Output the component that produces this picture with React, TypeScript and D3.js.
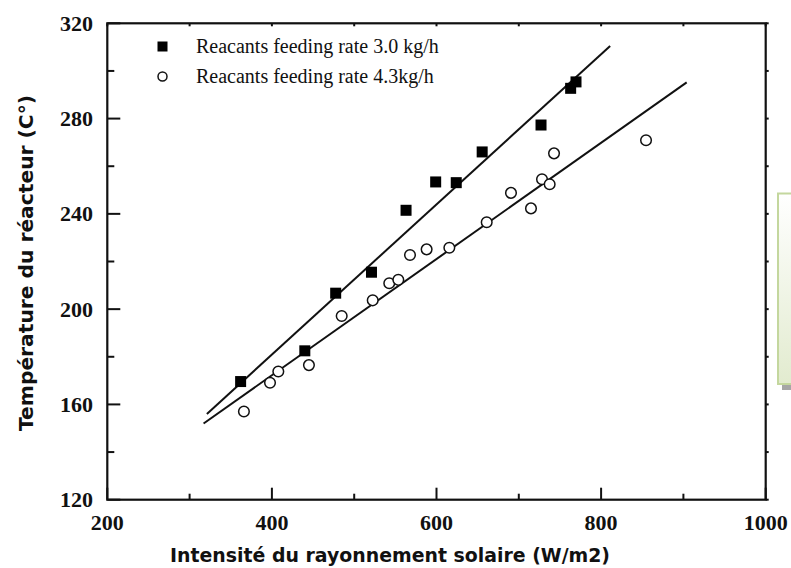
import React from "react";
import * as d3 from "d3";

// Series: reactor temperature vs solar irradiance
const feed30X = [362, 440, 477.5, 521, 563, 599, 624, 655.5, 727, 763, 769.5];
const feed30Y = [169.6, 182.5, 206.7, 215.5, 241.5, 253.4, 253.1, 266, 277.3, 292.7, 295.4];

const feed43X = [366, 397.7, 407.8, 445, 484.8, 522.5, 542.6, 553.6, 567.8, 588, 615.6, 661, 690.5, 714.8, 728.2, 737.5, 742.8, 854.6];
const feed43Y = [157, 169.1, 173.8, 176.5, 197.1, 203.7, 210.9, 212.3, 222.7, 225.1, 225.8, 236.5, 248.8, 242.3, 254.5, 252.4, 265.4, 270.9];

// Linear fit endpoints
const fit30X = [321, 811];
const fit30Y = [156, 310.5];
const fit43X = [317, 904];
const fit43Y = [152, 295.2];

const xTicks = [200, 400, 600, 800, 1000];
const xMinor = [300, 500, 700, 900];
const yTicks = [120, 160, 200, 240, 280, 320];
const yMinor = [140, 180, 220, 260, 300];

const legendLabels = ["Reacants feeding rate 3.0 kg/h", "Reacants feeding rate 4.3kg/h"];
const xTitle = "Intensité du rayonnement solaire (W/m2)";
const yTitle = "Température du réacteur (C°)";

const W = 791;
const H = 568;
const plot = { left: 107.3, right: 765.7, top: 23.3, bottom: 499.7 };

export default function App() {
  const x = d3.scaleLinear().domain([200, 1000]).range([plot.left, plot.right]);
  const y = d3.scaleLinear().domain([120, 320]).range([plot.bottom, plot.top]);
  const line = d3
    .line<[number, number]>()
    .x((d) => x(d[0]))
    .y((d) => y(d[1]));

  const serif = "'Liberation Serif', 'Times New Roman', serif";
  const sans = "'DejaVu Sans', Verdana, sans-serif";
  const sq = 11;

  return (
    <svg
      width={W}
      height={H}
      viewBox={`0 0 ${W} ${H}`}
      style={{ position: "absolute", left: 0, top: 0, background: "#fff" }}
    >
      <defs>
        <linearGradient id="noteFill" x1="0" y1="0" x2="0" y2="1">
          <stop offset="0" stopColor="#ffffff" />
          <stop offset="1" stopColor="#e2ebcf" />
        </linearGradient>
      </defs>
      <rect x={0} y={0} width={W} height={H} fill="#fff" />

      {/* side note box */}
      <rect x={782} y={198} width={20} height={192} fill="#a6a6a6" />
      <rect x={778} y={193.5} width={20} height={190.5} fill="url(#noteFill)" stroke="#c4d79e" strokeWidth={2} />

      {/* fit lines */}
      <path d={line(fit30X.map((v, i) => [v, fit30Y[i]]) as [number, number][]) || ""} fill="none" stroke="#111" strokeWidth={2} />
      <path d={line(fit43X.map((v, i) => [v, fit43Y[i]]) as [number, number][]) || ""} fill="none" stroke="#111" strokeWidth={2} />

      {/* data markers */}
      {feed43X.map((v, i) => (
        <circle key={"c" + i} cx={x(v)} cy={y(feed43Y[i])} r={5.3} fill="#fff" stroke="#111" strokeWidth={1.5} />
      ))}
      {feed30X.map((v, i) => (
        <rect key={"s" + i} x={x(v) - sq / 2} y={y(feed30Y[i]) - sq / 2} width={sq} height={sq} fill="#000" />
      ))}

      {/* frame */}
      <rect
        x={plot.left}
        y={plot.top}
        width={plot.right - plot.left}
        height={plot.bottom - plot.top}
        fill="none"
        stroke="#111"
        strokeWidth={2.2}
      />

      {/* bottom ticks */}
      {xTicks.map((t) => (
        <line key={"xb" + t} x1={x(t)} x2={x(t)} y1={plot.bottom} y2={plot.bottom - 12} stroke="#111" strokeWidth={2} />
      ))}
      {xMinor.map((t) => (
        <line key={"xbm" + t} x1={x(t)} x2={x(t)} y1={plot.bottom} y2={plot.bottom - 6} stroke="#111" strokeWidth={2} />
      ))}
      {/* top ticks */}
      {[...xTicks, ...xMinor].map((t) => (
        <line key={"xt" + t} x1={x(t)} x2={x(t)} y1={plot.top} y2={plot.top + 3} stroke="#111" strokeWidth={2} />
      ))}
      {/* left ticks */}
      {yTicks.map((t) => (
        <line key={"yl" + t} x1={plot.left} x2={plot.left + 13} y1={y(t)} y2={y(t)} stroke="#111" strokeWidth={2} />
      ))}
      {yMinor.map((t) => (
        <line key={"ylm" + t} x1={plot.left} x2={plot.left + 7} y1={y(t)} y2={y(t)} stroke="#111" strokeWidth={2} />
      ))}
      {/* right ticks */}
      {[...yTicks, ...yMinor].map((t) => (
        <line key={"yr" + t} x1={plot.right} x2={plot.right + 3} y1={y(t)} y2={y(t)} stroke="#111" strokeWidth={2} />
      ))}

      {/* tick labels */}
      {xTicks.map((t) => (
        <text
          key={"xl" + t}
          x={x(t)}
          y={530}
          textAnchor="middle"
          fontFamily={serif}
          fontWeight="bold"
          fontSize={22}
          fill="#111"
        >
          {t}
        </text>
      ))}
      {yTicks.map((t) => (
        <text
          key={"yll" + t}
          x={93}
          y={y(t) + 7.5}
          textAnchor="end"
          fontFamily={serif}
          fontWeight="bold"
          fontSize={22}
          fill="#111"
        >
          {t}
        </text>
      ))}

      {/* legend */}
      <rect x={162.5 - 5} y={46.5 - 5} width={10} height={10} fill="#000" />
      <circle cx={162.5} cy={76.5} r={4.5} fill="#fff" stroke="#111" strokeWidth={1.5} />
      <text x={196} y={53} fontFamily={serif} fontSize={20} fill="#111">
        {legendLabels[0]}
      </text>
      <text x={196} y={83} fontFamily={serif} fontSize={20} fill="#111">
        {legendLabels[1]}
      </text>

      {/* axis titles */}
      <text
        x={390}
        y={562}
        textAnchor="middle"
        fontFamily={sans}
        fontWeight="bold"
        fontSize={20}
        textLength={440}
        lengthAdjust="spacingAndGlyphs"
        fill="#111"
      >
        {xTitle}
      </text>
      <text
        transform={`translate(33, 263) rotate(-90)`}
        textAnchor="middle"
        fontFamily={sans}
        fontWeight="bold"
        fontSize={20}
        textLength={336}
        lengthAdjust="spacingAndGlyphs"
        fill="#111"
      >
        {yTitle}
      </text>
    </svg>
  );
}
